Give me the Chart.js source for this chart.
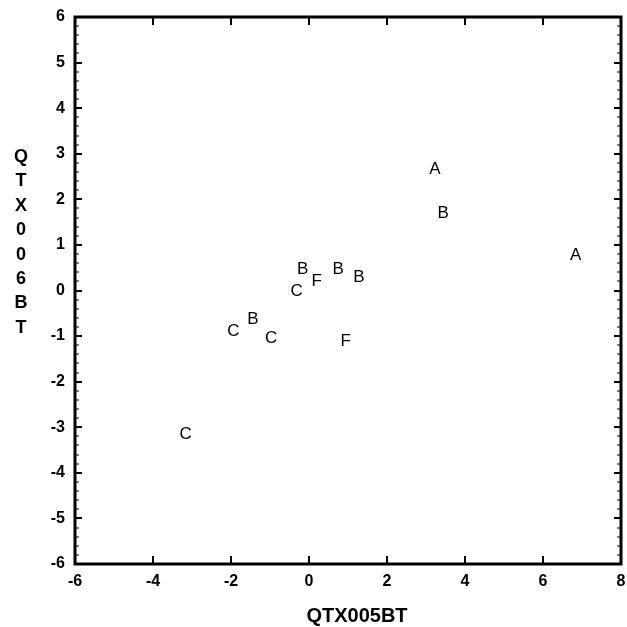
<!DOCTYPE html>
<html>
<head>
<meta charset="utf-8">
<script src="https://cdn.jsdelivr.net/npm/chart.js@4"></script>
<style>
  html, body { margin: 0; padding: 0; background: #fff; }
  #wrap { width: 627px; height: 627px; }
</style>
</head>
<body>
<div id="wrap"><canvas id="scatterChart" width="627" height="627"></canvas></div>
<script>
// point labels and their coordinates
const pointLabels = ['A', 'B', 'A', 'B', 'F', 'C', 'B', 'B', 'C', 'B', 'C', 'F', 'C'];
const xValues = [3.23, 3.44, 6.84, -0.16, 0.20, -0.32, 0.75, 1.28, -1.94, -1.44, -0.97, 0.94, -3.16];
const yValues = [2.66, 1.69, 0.78, 0.47, 0.21, -0.01, 0.47, 0.29, -0.90, -0.64, -1.05, -1.11, -3.16];

// axis ranges / ticks
const xRange = [-6, 8];
const xStep = 2;
const yRange = [-6, 6];
const yStep = 1;
const yMinorStep = 0.2;

const xTitle = 'QTX005BT';
const yTitle = 'QTX006BT';

const FONT = 'Arial, "Liberation Sans", Helvetica, sans-serif';

// frame with inward ticks + axis titles, like the original plot
const framePlugin = {
  id: 'frame',
  afterDraw(chart) {
    const { ctx, chartArea: a, scales } = chart;
    const xs = scales.x, ys = scales.y;
    ctx.save();
    ctx.strokeStyle = '#000';

    // major x ticks on bottom and top
    ctx.lineWidth = 2;
    for (let v = xRange[0] + xStep; v < xRange[1]; v += xStep) {
      const px = Math.round(xs.getPixelForValue(v));
      ctx.beginPath();
      ctx.moveTo(px, a.bottom); ctx.lineTo(px, a.bottom - 8);
      ctx.moveTo(px, a.top); ctx.lineTo(px, a.top + 8);
      ctx.stroke();
    }

    // y ticks (major + minor) on left and right
    const n = Math.round((yRange[1] - yRange[0]) / yMinorStep);
    for (let i = 1; i < n; i++) {
      const v = yRange[0] + i * yMinorStep;
      const major = i % Math.round(yStep / yMinorStep) === 0;
      const py = Math.round(ys.getPixelForValue(v));
      const len = major ? 7 : 4;
      ctx.lineWidth = major ? 2 : 1;
      ctx.beginPath();
      ctx.moveTo(a.left, py); ctx.lineTo(a.left + len, py);
      ctx.moveTo(a.right, py); ctx.lineTo(a.right - len, py);
      ctx.stroke();
    }

    // box
    ctx.lineWidth = 3;
    ctx.strokeRect(a.left, a.top, a.right - a.left, a.bottom - a.top);

    ctx.fillStyle = '#000';
    ctx.textAlign = 'center';
    ctx.textBaseline = 'middle';

    // x title
    ctx.font = 'bold 20px ' + FONT;
    ctx.fillText(xTitle, (a.left + a.right) / 2 + 9, a.bottom + 52);

    // stacked y title
    ctx.font = 'bold 18px ' + FONT;
    const startY = a.top + 140;
    yTitle.split('').forEach((ch, i) => {
      ctx.fillText(ch, 21, startY + i * 24.4);
    });
    ctx.restore();
  }
};

// draw the letters as the markers
const letterPlugin = {
  id: 'letters',
  afterDatasetsDraw(chart) {
    const { ctx } = chart;
    const meta = chart.getDatasetMeta(0);
    ctx.save();
    ctx.fillStyle = '#000';
    ctx.font = '17px ' + FONT;
    ctx.textAlign = 'center';
    ctx.textBaseline = 'middle';
    meta.data.forEach((pt, i) => {
      ctx.fillText(pointLabels[i], pt.x, pt.y);
    });
    ctx.restore();
  }
};

new Chart(document.getElementById('scatterChart').getContext('2d'), {
  type: 'scatter',
  data: {
    datasets: [{
      label: 'points',
      data: xValues.map((x, i) => ({ x: x, y: yValues[i] })),
      pointRadius: 0,
      pointHoverRadius: 0,
      showLine: false
    }]
  },
  options: {
    responsive: false,
    animation: false,
    events: [],
    layout: { padding: { top: 17, right: 6, left: 0, bottom: 0 } },
    plugins: {
      legend: { display: false },
      tooltip: { enabled: false }
    },
    scales: {
      x: {
        type: 'linear',
        min: xRange[0],
        max: xRange[1],
        afterFit: (scale) => {
          scale.height = 63;
          scale.paddingLeft = 0;
          scale.paddingRight = 0;
        },
        grid: { display: false, drawTicks: false },
        border: { display: false },
        ticks: {
          stepSize: xStep,
          padding: 8,
          color: '#000',
          font: { family: FONT, size: 16, weight: 'bold' }
        }
      },
      y: {
        type: 'linear',
        min: yRange[0],
        max: yRange[1],
        afterFit: (scale) => {
          scale.width = 75;
          scale.paddingTop = 0;
          scale.paddingBottom = 0;
        },
        grid: { display: false, drawTicks: false },
        border: { display: false },
        ticks: {
          stepSize: yStep,
          padding: 10,
          color: '#000',
          font: { family: FONT, size: 16, weight: 'bold' }
        }
      }
    }
  },
  plugins: [framePlugin, letterPlugin]
});
</script>
</body>
</html>
